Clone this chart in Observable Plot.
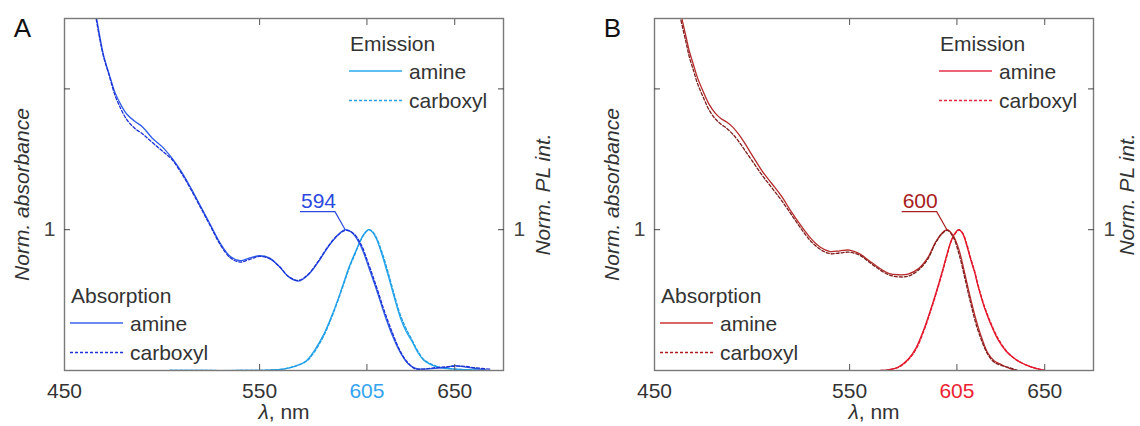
<!DOCTYPE html>
<html><head><meta charset="utf-8">
<script src="https://cdn.jsdelivr.net/npm/d3@7"></script>
<script src="https://cdn.jsdelivr.net/npm/@observablehq/plot@0.6"></script>
<style>
body{margin:0;background:#fff;}
#wrap{position:relative;width:1140px;height:426px;overflow:hidden;background:#fff;}
#wrap svg{position:absolute;top:0;}
</style></head><body><div id="wrap"></div>
<script>
// ---- ticks ----
const xTicksBottom = [450, 550, 650];
const xTickHighlight = [605];
const xTicksInner = [550, 605, 650];
const yTicks = [1, 2];
const peakA = 594, peakB = 600;

// ---- Panel A: absorption ----
const lamAAbsAmine = [465,468,470,473,476,479,482,486,490,495,500,505,510,515,520,525,530,535,540,545,550,555,560,565,570,575,580,585,590,594,598,602,606,610,614,618,622,626,630,635,640,645,650,655,660,666];
const aAbsAmine    = [2.62,2.38,2.24,2.10,1.97,1.885,1.82,1.77,1.73,1.65,1.59,1.51,1.41,1.29,1.16,1.03,0.90,0.81,0.78,0.80,0.815,0.80,0.74,0.665,0.635,0.68,0.77,0.875,0.96,1.00,0.97,0.88,0.73,0.57,0.40,0.25,0.13,0.05,0.015,0.01,0.015,0.02,0.035,0.025,0.015,0.005];
const lamAAbsCarb  = [465,468,470,473,476,479,482,486,490,495,500,505,510,515,520,525,530,535,540,545,550,555,560,565,570,575,580,585,590,594,598,602,606,610,614,618,622,626,630,635,640,645,650,655,660,668];
const aAbsCarb     = [2.60,2.36,2.23,2.09,1.95,1.855,1.78,1.72,1.68,1.62,1.56,1.50,1.40,1.28,1.15,1.02,0.89,0.80,0.77,0.79,0.81,0.795,0.74,0.665,0.64,0.685,0.775,0.88,0.96,0.995,0.975,0.895,0.75,0.59,0.42,0.27,0.14,0.055,0.01,0.012,0.02,0.025,0.03,0.03,0.02,0.01];
// ---- Panel A: emission ----
const lamAEmAmine = [504,520,540,555,562,568,574,578,583,587,590,593,596,599,601,603,605,606,608,610,613,616,619,622,625,628,631,634,638,643,650,658,666];
const aEmAmine    = [0,0,0,0.003,0.01,0.03,0.07,0.14,0.26,0.39,0.50,0.62,0.74,0.84,0.90,0.96,0.995,1.0,0.98,0.93,0.81,0.67,0.52,0.38,0.28,0.21,0.13,0.075,0.04,0.02,0.01,0.005,0];
const lamAEmCarb  = [504,520,540,555,562,568,574,578,583,587,590,593,596,599,601,603,605,606,608,610,613,616,619,622,625,628,631,634,638,643,650,658,666];
const aEmCarb     = [0,0,0,0.003,0.01,0.03,0.065,0.13,0.25,0.38,0.49,0.61,0.73,0.83,0.90,0.955,0.99,1.0,0.985,0.94,0.83,0.69,0.54,0.40,0.30,0.22,0.14,0.08,0.045,0.02,0.01,0.005,0];

// ---- Panel B: absorption ----
const lamBAbsAmine = [463,466,468,470,472,475,478,481,484,487,490,493,496,500,505,510,515,520,525,530,535,540,545,550,555,560,565,570,575,580,585,590,594,597,600,603,606,609,612,615,618,621,624,628,632,636];
const bAbsAmine    = [2.56,2.38,2.26,2.17,2.08,1.98,1.89,1.83,1.79,1.765,1.73,1.68,1.62,1.53,1.42,1.33,1.24,1.13,1.03,0.94,0.875,0.845,0.85,0.855,0.83,0.78,0.73,0.69,0.68,0.685,0.72,0.80,0.91,0.97,1.00,0.96,0.86,0.69,0.51,0.35,0.22,0.12,0.07,0.04,0.015,0.0];
const lamBAbsCarb  = [463,466,468,470,472,475,478,481,484,487,490,493,496,500,505,510,515,520,525,530,535,540,545,550,555,560,565,570,575,580,585,590,594,597,600,603,606,609,612,615,618,621,624,628,632,636];
const bAbsCarb     = [2.52,2.34,2.22,2.13,2.04,1.94,1.85,1.79,1.75,1.72,1.68,1.63,1.57,1.49,1.39,1.30,1.21,1.11,1.01,0.92,0.86,0.83,0.835,0.84,0.82,0.77,0.72,0.68,0.665,0.67,0.71,0.79,0.905,0.965,0.995,0.95,0.83,0.66,0.48,0.32,0.20,0.11,0.06,0.035,0.02,0.0];
// ---- Panel B: emission ----
const lamBEmAmine = [566,570,575,580,584,588,591,594,597,600,602,604,606,608,610,612,614,616,619,622,626,630,634,638,643,647,650];
const bEmAmine    = [0,0.005,0.025,0.08,0.16,0.29,0.41,0.54,0.68,0.83,0.92,0.975,1.0,0.97,0.89,0.79,0.70,0.59,0.45,0.34,0.22,0.14,0.09,0.055,0.025,0.01,0];
const lamBEmCarb  = [566,570,575,580,584,588,591,594,597,600,602,604,606,608,610,612,614,616,619,622,626,630,634,638,643,647,650];
const bEmCarb     = [0,0.005,0.022,0.075,0.15,0.28,0.40,0.53,0.67,0.82,0.915,0.97,0.998,0.975,0.90,0.80,0.71,0.60,0.46,0.35,0.23,0.145,0.09,0.055,0.025,0.01,0];

const FONT = '"Liberation Sans", Arial, sans-serif';
const TXT = "#333";

function rows(xs, ys) { return xs.map((x, i) => ({x, y: ys[i]})); }

function panel(cfg) {
  const off = cfg.off;
  const W = 570, H = 426;
  const mL = 64 + off, mR = 67 - off, mT = 18, mB = 56;
  const marks = [
    ...cfg.series.map(s => Plot.line(rows(s.x, s.y), {x: "x", y: "y", stroke: s.color, strokeWidth: 1.3, strokeDasharray: s.dash, curve: "catmull-rom", clip: true})),
    Plot.frame({stroke: "#7a7a7a", strokeWidth: 1.4}),
    Plot.axisX(xTicksInner, {anchor: "bottom", tickSize: -6, tickFormat: () => "", color: "#555", label: null}),
    Plot.axisX(xTicksInner, {anchor: "top", tickSize: -6, tickFormat: () => "", color: "#555", label: null}),
    Plot.axisX(xTicksBottom, {anchor: "bottom", tickSize: 0, tickPadding: 13, color: TXT, label: null}),
    Plot.axisX(xTickHighlight, {anchor: "bottom", tickSize: 0, tickPadding: 13, color: cfg.hiColor, label: null}),
    Plot.axisY(yTicks, {anchor: "left", tickSize: -6, tickPadding: 15, tickFormat: d => d === 1 ? "1" : "", color: "#444", label: null}),
    Plot.axisY(yTicks, {anchor: "right", tickSize: -6, tickPadding: 16, tickFormat: d => d === 1 ? "1" : "", color: "#444", label: null}),
    Plot.text(["Norm. absorbance"], {frameAnchor: "left", dx: -42, rotate: -90, textAnchor: "middle", lineAnchor: "middle", fontStyle: "italic", fontSize: 21, fill: TXT}),
    Plot.text(["Norm. PL int."], {frameAnchor: "right", dx: cfg.rightLabelDx, rotate: -90, textAnchor: "middle", lineAnchor: "middle", fontStyle: "italic", fontSize: 21, fill: TXT}),
    Plot.text(["λ, nm"], {frameAnchor: "bottom", dy: 42, textAnchor: "middle", lineAnchor: "middle", fontSize: 21, fill: TXT}),
    Plot.text([cfg.letter], {frameAnchor: "top-left", dx: -42, dy: 10, textAnchor: "middle", lineAnchor: "middle", fontSize: 26, fill: "#111"})
  ];
  const plot = Plot.plot({
    width: W, height: H, marginLeft: mL, marginRight: mR, marginTop: mT, marginBottom: mB,
    x: {domain: [450, 675], label: null},
    y: {domain: [0, 2.5], label: null},
    style: {fontFamily: FONT, fontSize: "21px", background: "transparent", color: TXT},
    marks
  });
  const svg = d3.select(plot);
  svg.style("left", cfg.left + "px");
  // italic lambda
  svg.selectAll("text").filter(function(){ return this.textContent === "λ, nm"; }).each(function(){
    const t = d3.select(this); t.text("");
    t.append("tspan").attr("font-style", "italic").text("λ");
    t.append("tspan").text(", nm");
  });
  const g = svg.append("g").attr("font-family", FONT).attr("font-size", 21).attr("fill", TXT).attr("text-anchor", "start");
  // legends
  function legend(title, x0, y0, cols, gap) {
    g.append("text").attr("x", x0 + 1).attr("y", y0 + 7.5).text(title);
    const lineLen = cfg.lineLen;
    [["amine", cols[0], null], ["carboxyl", cols[1], "3,2"]].forEach(([lab, col, dash], i) => {
      const yy = y0 + gap + i * 29.5;
      g.append("line").attr("x1", x0).attr("x2", x0 + lineLen).attr("y1", yy).attr("y2", yy)
        .attr("stroke", col).attr("stroke-width", 1.3).attr("stroke-dasharray", dash);
      g.append("text").attr("x", x0 + lineLen + 7).attr("y", yy + 7.5).text(lab);
    });
  }
  legend("Emission", 349 + off, 43, cfg.emLegend, 28);
  legend("Absorption", 70 + off, 295, cfg.absLegend, 28);
  // peak annotation
  const sx = plot.scale("x"), sy = plot.scale("y");
  const px = sx.apply(cfg.peak), py = sy.apply(1);
  g.append("path").attr("d", `M${px},${py} L${px - 10},${py - 17.5} L${px - 45},${py - 17.5}`)
    .attr("fill", "none").attr("stroke", cfg.peakColor).attr("stroke-width", 1.2);
  g.append("text").attr("x", px - 44).attr("y", py - 21).attr("fill", cfg.peakColor).text(String(cfg.peak));
  document.getElementById("wrap").appendChild(plot);
}

panel({
  left: 0, off: 0, letter: "A", peak: peakA, peakColor: "#2b49e0", hiColor: "#34a4f0", lineLen: 53, rightLabelDx: 40,
  series: [
    {x: lamAEmAmine, y: aEmAmine, color: "#23a5ec", dash: null},
    {x: lamAEmCarb, y: aEmCarb, color: "#1f9de6", dash: "3,2"},
    {x: lamAAbsAmine, y: aAbsAmine, color: "#2f5ce6", dash: null},
    {x: lamAAbsCarb, y: aAbsCarb, color: "#1b30d4", dash: "3,2"}
  ],
  emLegend: ["#2aa8ee", "#2aa0e8"],
  absLegend: ["#3a66e8", "#1d33d9"]
});
panel({
  left: 570, off: 20, letter: "B", peak: peakB, peakColor: "#a82020", hiColor: "#ec2233", lineLen: 53, rightLabelDx: 34,
  series: [
    {x: lamBEmAmine, y: bEmAmine, color: "#e8182e", dash: null},
    {x: lamBEmCarb, y: bEmCarb, color: "#e0162a", dash: "3,2"},
    {x: lamBAbsAmine, y: bAbsAmine, color: "#b52a2a", dash: null},
    {x: lamBAbsCarb, y: bAbsCarb, color: "#7f1d1d", dash: "3,2"}
  ],
  emLegend: ["#e8304a", "#e02a40"],
  absLegend: ["#cc3333", "#b01c1c"]
});
</script></body></html>
